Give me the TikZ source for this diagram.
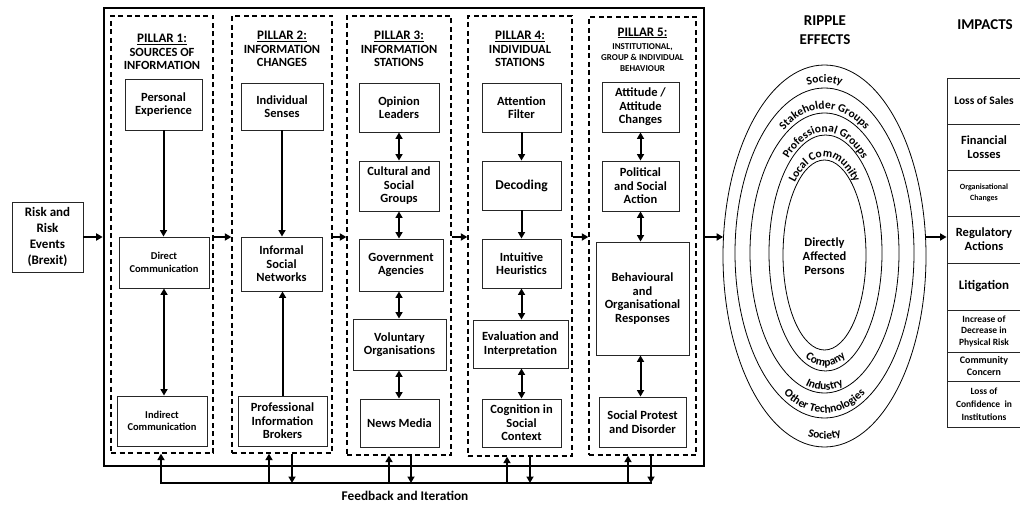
\documentclass[tikz,border=0pt]{standalone}
\usepackage{fontspec}
\setmainfont{Carlito}
\usetikzlibrary{arrows.meta,shapes.geometric,decorations.text}
\newcommand\ringfont{\fontsize{11.5}{13}\selectfont\bfseries}
\begin{document}
\begin{tikzpicture}[x=1pt,y=-1pt,
  wh/.style 2 args={minimum width=#1pt,minimum height=#2pt},
  box/.style={draw=black!85,line width=0.9pt,inner sep=1pt,align=center,font=\fontsize{12.5}{13.5}\selectfont\bfseries},
  small/.style={font=\fontsize{10.5}{12.5}\selectfont\bfseries},
  pillar/.style={draw,line width=1.3pt,dash pattern=on 5pt off 3.5pt,inner sep=0pt},
  ttl/.style={align=center,font=\fontsize{12.5}{13.5}\selectfont\bfseries,inner sep=0pt},
  arr/.style={line width=2pt,-{Triangle[length=6.5pt,width=7pt]}},
  darr/.style={line width=2pt,{Triangle[length=6.5pt,width=7pt]}-{Triangle[length=6.5pt,width=7pt]}},
  ring/.style={draw,line width=0.8pt,ellipse,inner sep=0pt},
  imp/.style={box,minimum width=74pt,minimum height=#1pt},
]
\useasboundingbox (0,0) rectangle (1020,505);

% risk box
\node[box,wh={71}{70},font=\fontsize{13}{16}\selectfont\bfseries] (risk) at (47.5,237) {Risk and\\Risk\\Events\\(Brexit)};

% frame and pillars
\node[draw,line width=2.6pt,wh={600}{458},inner sep=0pt] (frame) at (404,237) {};
\node[pillar,wh={102}{437}] (P1) at (162,234.5) {};
\node[pillar,wh={100}{437}] (P2) at (282,234.5) {};
\node[pillar,wh={104}{439}] (P3) at (399,235.5) {};
\node[pillar,wh={104}{440}] (P4) at (520,236) {};
\node[pillar,wh={107}{438}] (P5) at (642.5,236) {};

% titles
\node[ttl] (t1) at (162,52) {{\fontsize{13}{13.5}\selectfont\underline{PILLAR 1:}}\\SOURCES OF\\INFORMATION};
\node[ttl] (t2) at (282,49) {{\fontsize{13}{13.5}\selectfont\underline{PILLAR 2:}}\\INFORMATION\\CHANGES};
\node[ttl] (t3) at (399,49) {{\fontsize{13}{13.5}\selectfont\underline{PILLAR 3:}}\\INFORMATION\\STATIONS};
\node[ttl] (t4) at (520,49) {{\fontsize{13}{13.5}\selectfont\underline{PILLAR 4:}}\\INDIVIDUAL\\STATIONS};
\node[ttl,font=\fontsize{13}{13.5}\selectfont\bfseries] (t5) at (642.5,33) {\underline{PILLAR 5:}};
\node[ttl,font=\fontsize{9}{11}\selectfont\bfseries] (t5b) at (642.5,58) {INSTITUTIONAL,\\GROUP \& INDIVIDUAL\\BEHAVIOUR};

% pillar 1
\node[box,wh={77}{51}] (pe) at (163.5,104.5) {Personal\\Experience};
\node[box,small,wh={90}{51}] (dc) at (164,262.5) {Direct\\Communication};
\node[box,small,wh={90}{50}] (ic) at (162,421) {Indirect\\Communication};
% pillar 2
\node[box,wh={82}{47}] (is) at (282,106.5) {Individual\\Senses};
\node[box,wh={81}{54}] (isn) at (281.5,264) {Informal\\Social\\Networks};
\node[box,wh={89}{50}] (pib) at (282.5,421) {Professional\\Information\\Brokers};
% pillar 3
\node[box,wh={80}{49}] (ol) at (399,107.5) {Opinion\\Leaders};
\node[box,wh={80}{50}] (csg) at (399,186) {Cultural and\\Social\\Groups};
\node[box,wh={84}{52}] (ga) at (401,265) {Government\\Agencies};
\node[box,wh={93}{51}] (vo) at (399.5,344.5) {Voluntary\\Organisations};
\node[box,wh={79}{48}] (nm) at (399.5,423) {News Media};
% pillar 4
\node[box,wh={79}{49}] (af) at (521.5,107.5) {Attention\\Filter};
\node[box,wh={79}{49},font=\fontsize{13.5}{14}\selectfont\bfseries] (dec) at (521.5,185.5) {Decoding};
\node[box,wh={79}{49}] (ih) at (521.5,263.5) {Intuitive\\Heuristics};
\node[box,wh={95}{48}] (ei) at (520.5,344) {Evaluation and\\Interpretation};
\node[box,wh={79}{48}] (csc) at (521.5,423) {Cognition in\\Social\\Context};
% pillar 5
\node[box,wh={77}{50}] (att) at (640.5,107) {Attitude /\\Attitude\\Changes};
\node[box,wh={77}{50}] (psa) at (640.5,186) {Political\\and Social\\Action};
\node[box,wh={93}{113}] (bor) at (642.5,298.5) {Behavioural\\and\\Organisational\\Responses};
\node[box,wh={87}{50}] (spd) at (642.5,422) {Social Protest\\and Disorder};

% arrows inside pillars
\draw[arr] (pe.south) -- (pe.south |- dc.north);
\draw[darr] (dc.south) -- (dc.south |- ic.north);
\draw[arr] (is.south) -- (is.south |- isn.north);
\draw[arr] (pib.north) -- (pib.north |- isn.south);
\draw[darr] (ol.south) -- (ol.south |- csg.north);
\draw[darr] (csg.south) -- (csg.south |- ga.north);
\draw[darr] (csg.south |- ga.south) -- (csg.south |- vo.north);
\draw[darr] (csg.south |- vo.south) -- (csg.south |- nm.north);
\draw[arr] (af.south) -- (af.south |- dec.north);
\draw[arr] (dec.south) -- (dec.south |- ih.north);
\draw[darr] (ih.south) -- (ih.south |- ei.north);
\draw[darr] (ih.south |- ei.south) -- (ih.south |- csc.north);
\draw[darr] (att.south) -- (att.south |- psa.north);
\draw[darr] (psa.south) -- (psa.south |- bor.north);
\draw[darr] (psa.south |- bor.south) -- (psa.south |- spd.north);

% flow arrows
\draw[arr] (risk.east) -- (frame.west |- risk);
\draw[arr] (P1.east |- risk) -- (P2.west |- risk);
\draw[arr] (P2.east |- risk) -- (P3.west |- risk);
\draw[arr] (P3.east |- risk) -- (P4.west |- risk);
\draw[arr] (P4.east |- risk) -- (P5.west |- risk);

% ripple effects
\node[ring,wh={203}{382}] (r1) at (824.5,256) {};
\node[ring,wh={179}{330}] (r2) at (824.5,253) {};
\node[ring,wh={149}{280}] (r3) at (824.5,253) {};
\node[ring,wh={113}{236}] (r4) at (825.5,253) {};
\node[ring,wh={83}{190}] (r5) at (824.5,255) {};
\node[align=center,font=\fontsize{12.5}{14}\selectfont\bfseries] (dap) at (824.5,256) {Directly\\Affected\\Persons};

\path[decorate,decoration={text along path,text align=center,text={|\ringfont|Society}}]
  (824.5,253) ++(165:93pt and 170.5pt) arc[start angle=165,end angle=15,x radius=93pt,y radius=170.5pt];
\path[decorate,decoration={text along path,text align=center,text={|\ringfont|Stakeholder Groups}}]
  (824.5,253) ++(165:77.5pt and 144pt) arc[start angle=165,end angle=15,x radius=77.5pt,y radius=144pt];
\path[decorate,decoration={text along path,text align=center,text={|\ringfont|Professional Groups}}]
  (825.5,253) ++(165:59pt and 121pt) arc[start angle=165,end angle=15,x radius=59pt,y radius=121pt];
\path[decorate,decoration={text along path,text align=center,text={|\ringfont|Local Community}}]
  (824.5,255) ++(170:44pt and 98pt) arc[start angle=170,end angle=10,x radius=44pt,y radius=98pt];

\path[decorate,decoration={text along path,text align=center,text={|\ringfont|Company}}]
  (825.5,253) ++(195:53pt and 113pt) arc[start angle=195,end angle=345,x radius=53pt,y radius=113pt];
\path[decorate,decoration={text along path,text align=center,text={|\ringfont|Industry}}]
  (824.5,253) ++(195:72pt and 137pt) arc[start angle=195,end angle=345,x radius=72pt,y radius=137pt];
\path[decorate,decoration={text along path,text align=center,text={|\ringfont|Other Technologies}}]
  (824.5,253) ++(195:86pt and 160pt) arc[start angle=195,end angle=345,x radius=86pt,y radius=160pt];
\path[decorate,decoration={text along path,text align=center,text={|\ringfont|Society}}]
  (824.5,256) ++(195:97pt and 183pt) arc[start angle=195,end angle=345,x radius=97pt,y radius=183pt];

\node[align=center,font=\fontsize{15}{19}\selectfont\bfseries] (rip) at (825,30) {RIPPLE\\EFFECTS};
\node[font=\fontsize{15}{16}\selectfont\bfseries] (imph) at (985,25) {IMPACTS};

% impacts
\node[imp=46,font=\fontsize{11.5}{13}\selectfont\bfseries] (los) at (984,101) {Loss of Sales};
\node[imp=46,font=\fontsize{12.5}{14}\selectfont\bfseries] (fin) at (984,147) {Financial\\Losses};
\node[imp=46,font=\fontsize{8}{10.5}\selectfont\bfseries] (org) at (984,193) {Organisational\\Changes};
\node[imp=47,font=\fontsize{12.5}{14}\selectfont\bfseries] (reg) at (984,239.5) {Regulatory\\Actions};
\node[imp=47,font=\fontsize{13}{14}\selectfont\bfseries] (lit) at (984,286.5) {Litigation};
\node[imp=42,font=\fontsize{9.5}{11.5}\selectfont\bfseries] (inc) at (984,331) {Increase of\\Decrease in\\Physical Risk};
\node[imp=29,font=\fontsize{10}{12}\selectfont\bfseries] (com) at (984,366.5) {Community\\Concern};
\node[imp=46,font=\fontsize{9.5}{13}\selectfont\bfseries] (loc) at (984,404) {Loss of\\Confidence\ \ in\\Institutions};

\draw[arr] (frame.east |- risk) -- (r1.169 |- risk);
\draw[arr] (r1.11 |- risk) -- (reg.west |- risk);

% feedback and iteration
\coordinate (u1) at (161,483);
\coordinate (u2) at (269,483);
\coordinate (u3) at (389,483);
\coordinate (u4) at (507,483);
\coordinate (u5) at (628,483);
\coordinate (d2) at (292,483);
\coordinate (d3) at (411,483);
\coordinate (d4) at (530,483);
\coordinate (d5) at (651,483);
\draw[line width=2.2pt,line cap=rect] (u1) -- (d5);
\draw[arr] (u1) -- (u1 |- P1.south);
\draw[arr] (u2) -- (u2 |- P2.south);
\draw[arr] (u3) -- (u3 |- P3.south);
\draw[arr] (u4) -- (u4 |- P4.south);
\draw[arr] (u5) -- (u5 |- P5.south);
\draw[arr] (d2 |- P2.south) -- (d2);
\draw[arr] (d3 |- P3.south) -- (d3);
\draw[arr] (d4 |- P4.south) -- (d4);
\draw[arr] (d5 |- P5.south) -- (d5);
\node[font=\fontsize{13.3}{14}\selectfont\bfseries] (fbt) at (405,496) {Feedback and Iteration};
\end{tikzpicture}
\end{document}
